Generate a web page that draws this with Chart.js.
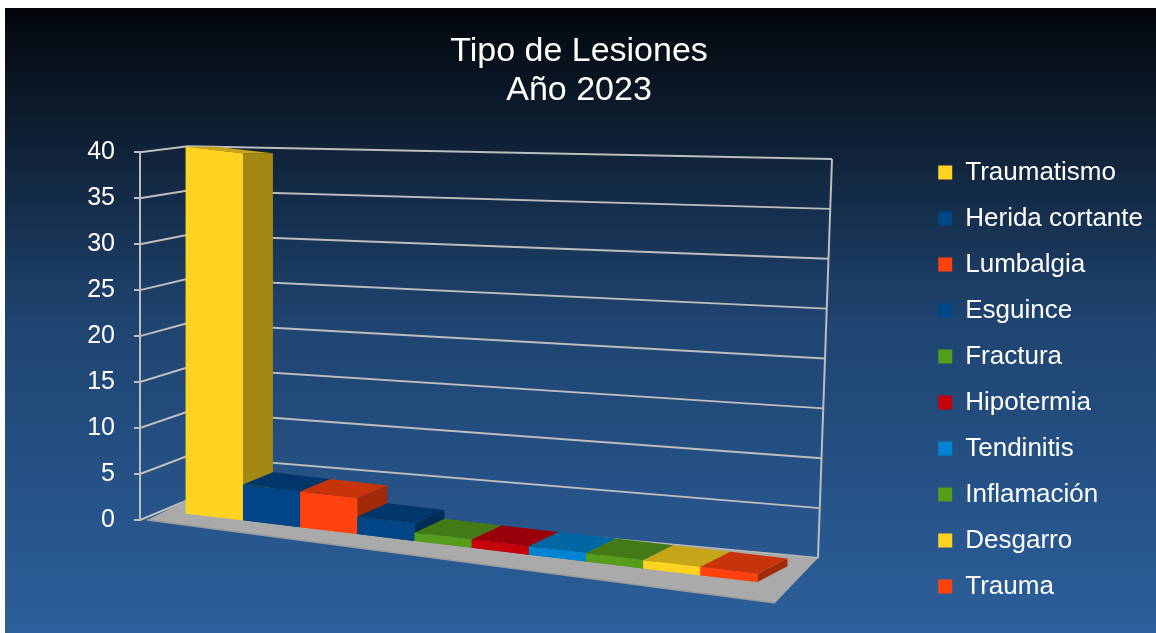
<!DOCTYPE html>
<html>
<head>
<meta charset="utf-8">
<script src="https://cdn.jsdelivr.net/npm/chart.js@4"></script>
<style>
  html, body { margin: 0; padding: 0; background: #fff; }
  #wrap { width: 1156px; height: 633px; }
</style>
</head>
<body>
<div id="wrap"><canvas id="lesiones-chart"></canvas></div>
<script>
// datos del grafico
const lesiones = ['Traumatismo', 'Herida cortante', 'Lumbalgia', 'Esguince', 'Fractura',
	'Hipotermia', 'Tendinitis', 'Inflamación', 'Desgarro', 'Trauma'];
const casos = [40, 4, 4, 2, 1, 1, 1, 1, 1, 1];
const colores = ['#ffd320', '#004586', '#ff420e', '#004586', '#579d1c',
	'#c5000b', '#0084d1', '#579d1c', '#ffd320', '#ff420e'];
const titulo = ['Tipo de Lesiones', 'Año 2023'];
const ejeY = { min: 0, max: 40, paso: 5 };

const FONT = "'Liberation Sans', Arial, sans-serif";
const SKEW = 0.12;      // inclinacion del piso
const LIFT = 11;        // las barras quedan un poco detras del borde del piso
const DEPTH_X = 30;
const HORIZON = 145;
const DEPTH_C = 0.036;

function shade(hex, f) {
	const n = parseInt(hex.slice(1), 16);
	const r = Math.round(((n >> 16) & 255) * f);
	const g = Math.round(((n >> 8) & 255) * f);
	const b = Math.round((n & 255) * f);
	return 'rgb(' + r + ',' + g + ',' + b + ')';
}

function poly(ctx, pts, fill) {
	ctx.beginPath();
	ctx.moveTo(pts[0][0], pts[0][1]);
	for (let i = 1; i < pts.length; i++) ctx.lineTo(pts[i][0], pts[i][1]);
	ctx.closePath();
	ctx.fillStyle = fill;
	ctx.fill();
}

const fondo = {
	id: 'fondo',
	beforeDraw(chart) {
		const ctx = chart.ctx;
		ctx.save();
		ctx.fillStyle = '#ffffff';
		ctx.fillRect(0, 0, chart.width, chart.height);
		const g = ctx.createLinearGradient(0, 8, 0, chart.height);
		g.addColorStop(0, '#010307');
		g.addColorStop(0.03, '#040b12');
		g.addColorStop(0.2, '#0f1f33');
		g.addColorStop(0.5, '#1f4470');
		g.addColorStop(1, '#2c5f9b');
		ctx.fillStyle = g;
		ctx.fillRect(5, 8, chart.width - 5, chart.height - 8);
		ctx.restore();
	}
};

// paredes, piso y caras 3D de las barras
const tresD = {
	id: 'tresD',
	beforeDatasetsDraw(chart) {
		const ctx = chart.ctx;
		const y = chart.scales.y;
		const L = chart.chartArea.left;
		const B = y.getPixelForValue(ejeY.min);
		const T = y.getPixelForValue(ejeY.max);
		ctx.save();
		ctx.strokeStyle = '#bdbdbd';
		ctx.lineWidth = 2;
		y.ticks.forEach(tk => {
			const yv = y.getPixelForValue(tk.value);
			const t = (B - yv) / (B - T);
			ctx.beginPath();
			ctx.moveTo(L, yv);
			ctx.lineTo(L + 48, yv - 20 + 14 * t);
			ctx.lineTo(L + 678 + 14 * t, B + 38 - t * 399);
			ctx.stroke();
		});
		ctx.beginPath();
		ctx.moveTo(L + 678, B + 38);
		ctx.lineTo(L + 692, B + 38 - 399);
		ctx.moveTo(L + 48, B - 20);
		ctx.lineTo(L + 48, T - 6);
		ctx.stroke();
		// piso
		poly(ctx, [[L + 7, B], [L + 635, B + 83], [L + 678, B + 38], [L + 48, B - 20]], '#aaaaaa');
		ctx.strokeStyle = '#9a9a9a';
		ctx.lineWidth = 1.5;
		ctx.beginPath();
		ctx.moveTo(L + 7, B);
		ctx.lineTo(L + 635, B + 83);
		ctx.stroke();
		ctx.restore();

		ctx.save();
		ctx.transform(1, SKEW, 0, 1, 0, -SKEW * L - LIFT);
	},
	afterDatasetsDraw(chart) {
		const ctx = chart.ctx;
		ctx.restore();
		const L = chart.chartArea.left;
		const S = (x, yy) => [x, yy + SKEW * (x - L) - LIFT];
		const D = p => [p[0] + DEPTH_X, p[1] - DEPTH_C * (p[1] - HORIZON)];
		ctx.save();
		chart.data.datasets.forEach((ds, i) => {
			const el = chart.getDatasetMeta(i).data[0];
			const p = el.getProps(['x', 'y', 'base', 'width'], true);
			const xl = p.x - p.width / 2, xr = p.x + p.width / 2;
			const a = S(xl, p.y), b = S(xr, p.y), c = S(xr, p.base), d = S(xl, p.base);
			const col = ds.backgroundColor;
			poly(ctx, [b, D(b), D(c), c], shade(col, 0.64));
			poly(ctx, [a, b, D(b), D(a)], shade(col, 0.78));
			poly(ctx, [a, b, c, d], col);
		});
		ctx.restore();
	}
};

new Chart(document.getElementById('lesiones-chart'), {
	type: 'bar',
	data: {
		labels: [''],
		datasets: lesiones.map((nombre, i) => ({
			label: nombre,
			data: [casos[i]],
			backgroundColor: colores[i],
			borderWidth: 0,
			categoryPercentage: 0.862,
			barPercentage: 1
		}))
	},
	options: {
		responsive: true,
		maintainAspectRatio: false,
		animation: false,
		layout: { padding: { top: 8, left: 5, right: 3, bottom: 0 } },
		plugins: {
			title: {
				display: true,
				text: titulo,
				color: '#ffffff',
				font: { family: FONT, size: 34, weight: 'normal', lineHeight: 1.15 },
				padding: { top: 24, bottom: 42 }
			},
			legend: {
				position: 'right',
				maxWidth: 260,
				title: { display: true, text: '', font: { size: 10, lineHeight: 1.2 }, padding: { top: 0, bottom: 106 } },
				labels: {
					color: '#ffffff',
					font: { family: FONT, size: 26 },
					boxWidth: 14,
					boxHeight: 14,
					padding: 20
				}
			},
			tooltip: { enabled: false }
		},
		scales: {
			x: {
				grid: { display: false },
				ticks: { display: false },
				border: { display: false },
				afterFit: s => { s.height = 113; }
			},
			y: {
				min: ejeY.min,
				max: ejeY.max,
				ticks: {
					stepSize: ejeY.paso,
					color: '#ffffff',
					padding: 19,
					font: { family: FONT, size: 25 }
				},
				grid: { drawOnChartArea: false, drawTicks: true, tickLength: 6, color: '#bdbdbd', lineWidth: 2 },
				border: { color: '#bdbdbd', width: 2 },
				afterFit: s => { s.width = 135; }
			},
			y2: {
				position: 'right',
				min: 0,
				max: 1,
				grid: { display: false },
				ticks: { display: false },
				border: { display: false },
				afterFit: s => { s.width = 115; }
			}
		}
	},
	plugins: [fondo, tresD]
});
</script>
</body>
</html>
